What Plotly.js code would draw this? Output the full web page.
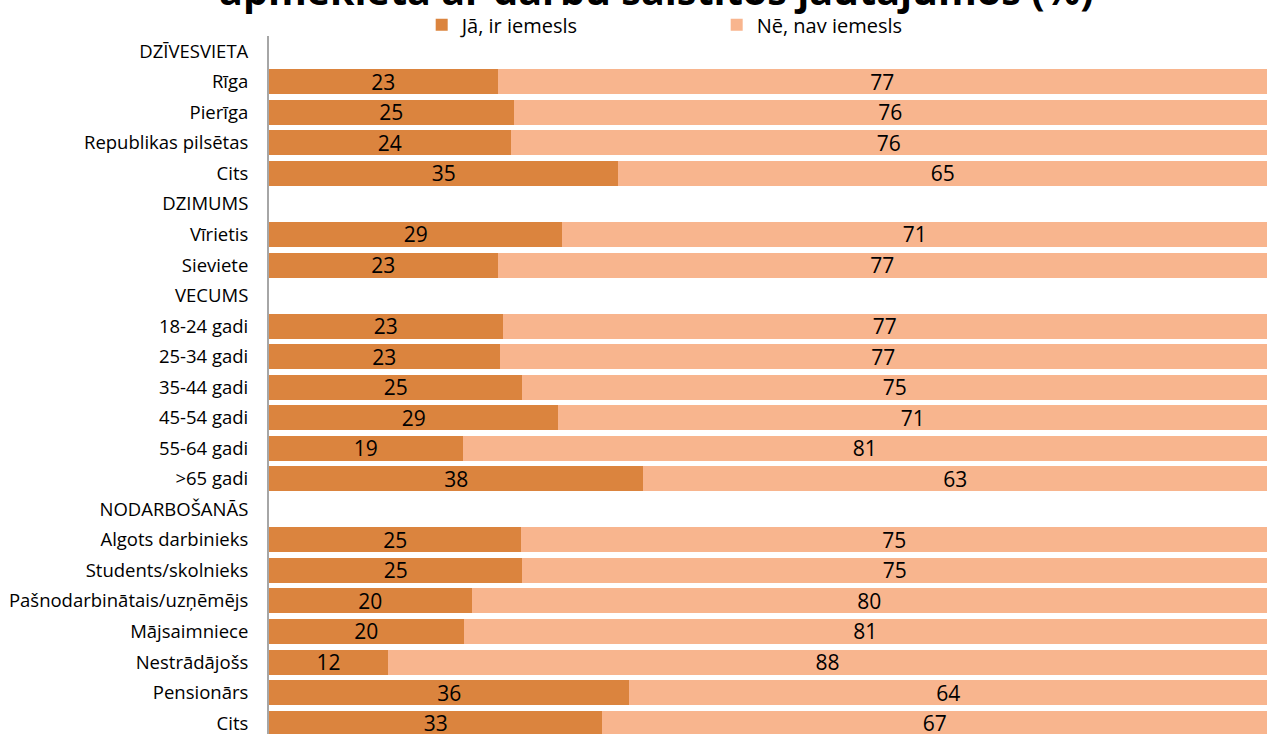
<!DOCTYPE html>
<html>
<head>
<meta charset="utf-8">
<script src="https://cdn.plot.ly/plotly-3.0.1.min.js"></script>
<style>html,body{margin:0;padding:0;background:#fff;overflow:hidden}#chart{width:1267px;height:734px}</style>
</head>
<body>
<div id="chart"></div>
<script>
const categories = [
  "DZĪVESVIETA", "Rīga", "Pierīga", "Republikas pilsētas", "Cits",
  "DZIMUMS", "Vīrietis", "Sieviete",
  "VECUMS", "18-24 gadi", "25-34 gadi", "35-44 gadi", "45-54 gadi", "55-64 gadi", ">65 gadi",
  "NODARBOŠANĀS", "Algots darbinieks", "Students/skolnieks", "Pašnodarbinātais/uzņēmējs",
  "Mājsaimniece", "Nestrādājošs", "Pensionārs", "Cits"
];
const yesValues = [null, 22.9, 24.5, 24.2, 35.0, null, 29.4, 22.9, null, 23.4, 23.1, 25.4, 29.0, 19.4, 37.5, null, 25.3, 25.4, 20.3, 19.5, 11.9, 36.1, 33.4];
const noValues  = [null, 77.1, 75.5, 75.8, 65.0, null, 70.6, 77.1, null, 76.6, 76.9, 74.6, 71.0, 80.6, 62.5, null, 74.7, 74.6, 79.7, 80.5, 88.1, 63.9, 66.6];
const seriesNames = ["Jā, ir iemesls", "Nē, nav iemesls"];
const titleText = "apmeklēta ar darbu saistītos jautājumos (%)";

const rowIndex = categories.map((_, i) => i);
const FONT = "Open Sans, Noto Sans, sans-serif";

function barTrace(values, name, color) {
  return {
    type: "bar", orientation: "h", name: name,
    x: values, y: rowIndex,
    marker: {color: color, line: {width: 0}},
    texttemplate: "%{x:.0f}", textposition: "inside", insidetextanchor: "middle",
    textangle: 0, constraintext: "none", cliponaxis: false,
    textfont: {family: FONT, size: 21, color: "#000"},
    hoverinfo: "skip"
  };
}

const data = [
  barTrace(yesValues, seriesNames[0], "#DB843E"),
  barTrace(noValues, seriesNames[1], "#F8B58E")
];

const layout = {
  width: 1267, height: 734,
  margin: {l: 269, r: 0, t: 36, b: 0, pad: 0},
  paper_bgcolor: "#fff", plot_bgcolor: "#fff",
  barmode: "stack", bargap: 0.18,
  font: {family: FONT, color: "#000"},
  title: {
    text: "<b>" + titleText + "</b>",
    font: {family: FONT, size: 39.5, color: "#000"},
    x: 0.518, xanchor: "center", xref: "container",
    y: 0.993, yanchor: "bottom", yref: "container"
  },
  showlegend: true,
  legend: {
    orientation: "h", x: 0.153, xanchor: "left", y: 1.016, yanchor: "middle",
    font: {family: FONT, size: 20, color: "#000"},
    bgcolor: "rgba(0,0,0,0)", borderwidth: 0,
    entrywidth: 250, entrywidthmode: "pixels", traceorder: "normal"
  },
  xaxis: {range: [0, 100], visible: false, fixedrange: true},
  yaxis: {
    tickmode: "array", tickvals: rowIndex, ticktext: categories,
    range: [22.357, -0.5], showgrid: false, zeroline: false,
    showline: true, linecolor: "#A6A6A6", linewidth: 2,
    ticks: "", ticklabelstandoff: 15, ticklabeloverflow: "allow",
    tickfont: {family: FONT, size: 18.5, color: "#000"}, fixedrange: true
  }
};

Plotly.newPlot("chart", data, layout, {displayModeBar: false, staticPlot: true});
</script>
</body>
</html>
